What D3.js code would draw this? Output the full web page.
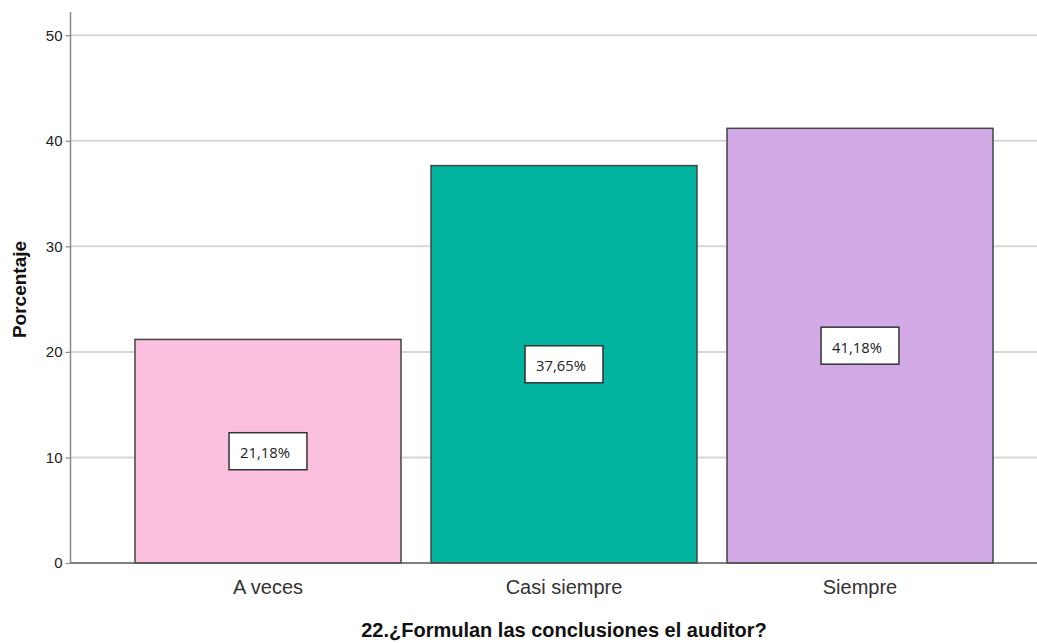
<!DOCTYPE html>
<html>
<head>
<meta charset="utf-8">
<script src="https://cdn.jsdelivr.net/npm/d3@7"></script>
<style>
  html, body { margin: 0; padding: 0; background: #fff; }
  svg { display: block; }
</style>
</head>
<body>
<svg id="chart" width="1037" height="643"></svg>
<script>
// Response categories, their percentages and the axis ticks
const categories = ["A veces", "Casi siempre", "Siempre"];
const percentages = [21.18, 37.65, 41.18];
const barColors = ["#fcc0df", "#00b39f", "#d1aae5"];
const yTicks = [0, 10, 20, 30, 40, 50];
const xTitle = "22.¿Formulan las conclusiones el auditor?";
const yTitle = "Porcentaje";

const fmt = v => v.toFixed(2).replace(".", ",") + "%";

const svg = d3.select("#chart");
const W = 1037;
const plotLeft = 71, plotRight = W, plotTop = 12, plotBottom = 563;

const x = d3.scaleBand()
  .domain(categories)
  .range([135, 993])
  .paddingInner(0.1014)
  .paddingOuter(0);

const y = d3.scaleLinear()
  .domain([0, 52.2])
  .range([plotBottom, plotTop]);

// Horizontal gridlines
svg.append("g")
  .selectAll("line")
  .data(yTicks.filter(t => t > 0))
  .join("line")
  .attr("x1", plotLeft).attr("x2", plotRight)
  .attr("y1", d => y(d)).attr("y2", d => y(d))
  .attr("stroke", "#d6d6d6")
  .attr("stroke-width", 2);

// Y axis
const yAxis = svg.append("g")
  .attr("transform", `translate(${plotLeft - 0.5},0)`)
  .call(d3.axisLeft(y).tickValues(yTicks).tickSize(5).tickPadding(3).tickFormat(d3.format("d")));
yAxis.select(".domain").attr("stroke", "#8a8a8a").attr("stroke-width", 1.5)
  .attr("d", `M0,${plotTop}V${plotBottom}`);
yAxis.selectAll(".tick line").attr("stroke", "#8a8a8a").attr("stroke-width", 1.2);
yAxis.selectAll(".tick text")
  .attr("fill", "#222")
  .style("font-family", "'Liberation Sans', Arial, sans-serif")
  .style("font-size", "15px");

// Bars
svg.append("g")
  .selectAll("rect")
  .data(categories)
  .join("rect")
  .attr("x", d => x(d))
  .attr("y", (d, i) => y(percentages[i]))
  .attr("width", x.bandwidth())
  .attr("height", (d, i) => y(0) - y(percentages[i]))
  .attr("fill", (d, i) => barColors[i])
  .attr("stroke", "#444")
  .attr("stroke-width", 1.5);

// X baseline
svg.append("line")
  .attr("x1", plotLeft - 0.5).attr("x2", plotRight)
  .attr("y1", y(0)).attr("y2", y(0))
  .attr("stroke", "#555")
  .attr("stroke-width", 1.5);

// Value labels in boxes, placed at mid-height of each bar
const labels = svg.append("g")
  .selectAll("g")
  .data(categories)
  .join("g")
  .attr("transform", (d, i) => `translate(${x(d) + x.bandwidth() / 2},${y(percentages[i] / 2)})`);

labels.each(function(d, i) {
  const g = d3.select(this);
  const t = g.append("text")
    .text(fmt(percentages[i]))
    .attr("fill", "#222")
    .attr("dominant-baseline", "central")
    .style("font-family", "'Open Sans', 'Noto Sans', sans-serif")
    .style("font-size", "14.8px");
  const tw = t.node().getComputedTextLength();
  const bw = tw + 28, bh = 37;
  g.insert("rect", "text")
    .attr("x", -bw / 2).attr("y", -bh / 2)
    .attr("width", bw).attr("height", bh)
    .attr("fill", "#fff")
    .attr("stroke", "#333")
    .attr("stroke-width", 1.5);
  t.attr("x", -bw / 2 + 11).attr("y", 1);
});

// Category labels
svg.append("g")
  .selectAll("text")
  .data(categories)
  .join("text")
  .attr("x", d => x(d) + x.bandwidth() / 2)
  .attr("y", 594)
  .attr("text-anchor", "middle")
  .attr("fill", "#333")
  .style("font-family", "'Liberation Sans', Arial, sans-serif")
  .style("font-size", "20px")
  .text(d => d);

// Axis titles
svg.append("text")
  .attr("x", (x.range()[0] + x.range()[1]) / 2)
  .attr("y", 637)
  .attr("text-anchor", "middle")
  .attr("fill", "#111")
  .style("font-family", "'Liberation Sans', Arial, sans-serif")
  .style("font-weight", "bold")
  .style("font-size", "20px")
  .text(xTitle);

svg.append("text")
  .attr("transform", `translate(26,${(plotTop + plotBottom) / 2 + 2}) rotate(-90)`)
  .attr("text-anchor", "middle")
  .attr("fill", "#111")
  .style("font-family", "'Liberation Sans', Arial, sans-serif")
  .style("font-weight", "bold")
  .style("font-size", "19px")
  .text(yTitle);
</script>
</body>
</html>
